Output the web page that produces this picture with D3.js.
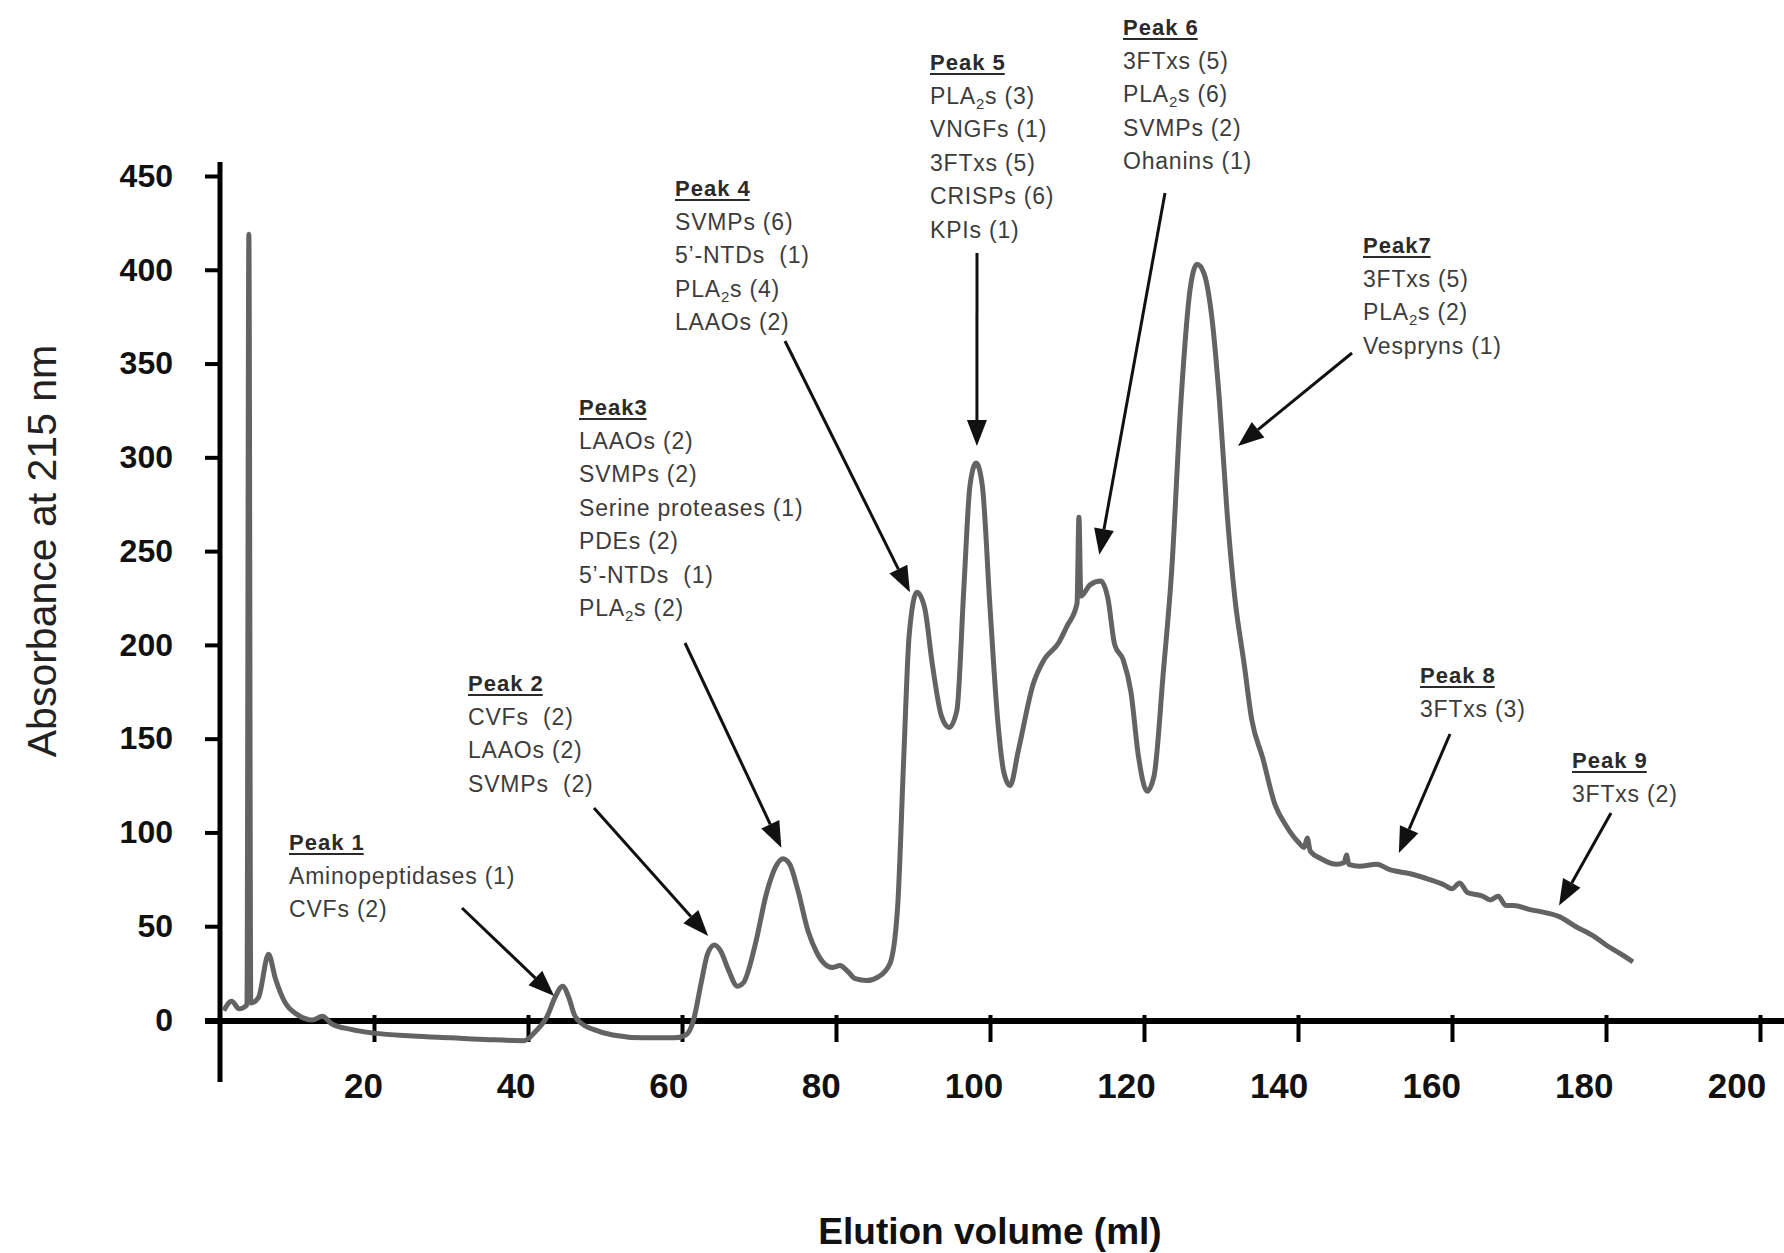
<!DOCTYPE html>
<html>
<head>
<meta charset="utf-8">
<script src="https://cdn.jsdelivr.net/npm/d3@7/dist/d3.min.js"></script>
<style>
  body { margin: 0; background: #fff; }
  svg { display: block; }
</style>
</head>
<body>
<svg id="chart"></svg>
<script>
// elution volume (ml)
const volume = [0.5, 1.5, 2.5, 3.5, 3.75, 4.0, 5, 6.3, 7.2, 8.5, 10, 12, 13.3, 14.5, 17, 20, 25, 30, 35, 39.5,
  41, 42.5, 43.5, 44.5, 45.3, 46, 47, 48.5, 51, 55, 59, 60.5, 61.5, 62.5, 63.3, 64.2, 65, 66, 67.2, 68,
  69.5, 71, 72.2, 73.1, 74, 75, 76.4, 77.5, 78.5, 79.5, 80.5, 81.5, 82.5, 84, 85.5, 87, 88, 88.8, 89.5, 90.5,
  91.5, 92.5, 93.7, 94.7, 95.7, 96.6, 97.4, 98.2, 99, 100, 101, 101.8, 102.6, 103.7, 105.6, 107, 108.9, 110, 111.3, 111.55,
  111.8, 113, 114.4, 115.3, 116.2, 117.3, 118.3, 119.3, 120.4, 121.3, 122.5, 123.6, 124.8, 126, 126.9, 127.8, 128.8, 129.8,
  130.8, 131.8, 133, 134, 135.4, 137, 138.4, 140, 140.8, 141.2, 141.6, 143, 145, 146, 146.3, 146.6, 148, 150.2,
  152, 154.6, 157, 159, 160, 161, 162, 164, 165, 166, 167, 168, 170, 172.4, 174, 176, 178.3, 180, 182, 183.5];
// absorbance at 215 nm
const absorbance = [5, 10, 6, 8, 419, 9, 12, 35, 22, 9, 3, 0, 2, -2, -5, -7, -8.5, -9.5, -10.5, -11,
  -6, 2, 12, 18, 12, 3, -2, -5, -8, -9.5, -9.5, -8, 0, 20, 35, 40, 37, 27, 18, 20,
  40, 68, 82, 86, 83, 70, 47, 36, 30, 28, 29, 26, 22, 21, 23, 30, 60, 140, 205, 228,
  220, 190, 162, 156, 165, 230, 285, 297, 285, 220, 160, 132, 125, 144, 179, 192, 201, 210, 222, 268,
  226, 232, 234, 225, 200, 192, 175, 140, 122, 130, 185, 240, 330, 390, 403, 398, 375, 330,
  270, 225, 190, 160, 140, 115, 104, 95, 92, 97, 90, 86, 83, 84, 88, 83, 82, 83,
  80, 78, 75, 72, 70, 73, 68, 66, 64, 66, 61, 61, 59, 57, 55, 50, 45, 40, 35, 31];

const xTicks = [20, 40, 60, 80, 100, 120, 140, 160, 180, 200];
const yTicks = [0, 50, 100, 150, 200, 250, 300, 350, 400, 450];

const peakNames = ["Peak 1", "Peak 2", "Peak3", "Peak 4", "Peak 5", "Peak 6", "Peak7", "Peak 8", "Peak 9"];
const peakContents = [
  ["Aminopeptidases (1)", "CVFs (2)"],
  ["CVFs  (2)", "LAAOs (2)", "SVMPs  (2)"],
  ["LAAOs (2)", "SVMPs (2)", "Serine proteases (1)", "PDEs (2)", "5\u2019-NTDs  (1)", "PLA_2s (2)"],
  ["SVMPs (6)", "5\u2019-NTDs  (1)", "PLA_2s (4)", "LAAOs (2)"],
  ["PLA_2s (3)", "VNGFs (1)", "3FTxs (5)", "CRISPs (6)", "KPIs (1)"],
  ["3FTxs (5)", "PLA_2s (6)", "SVMPs (2)", "Ohanins (1)"],
  ["3FTxs (5)", "PLA_2s (2)", "Vespryns (1)"],
  ["3FTxs (3)"],
  ["3FTxs (2)"]
];
// where each arrow points, in data units (ml, absorbance)
const peakTipVolume = [43.4, 63.4, 72.9, 89.6, 98.3, 114.2, 132.2, 153.1, 173.9];
const peakTipAbs = [12.8, 44.8, 91.8, 228, 306, 248, 306, 89, 61];

// layout of the label blocks and arrow tails (pixels)
const labelLayout = [
  {x: 289, y: 850, tail: [462, 908]},
  {x: 468, y: 691, tail: [594, 808]},
  {x: 579, y: 415, tail: [685, 643]},
  {x: 675, y: 196, tail: [785, 341]},
  {x: 930, y: 70, tail: [977, 253]},
  {x: 1123, y: 35, tail: [1165, 193]},
  {x: 1363, y: 253, tail: [1352, 353]},
  {x: 1420, y: 683, tail: [1450, 734]},
  {x: 1572, y: 768, tail: [1611, 813]}
];

const width = 1784, height = 1253;
const svg = d3.select("#chart").attr("width", width).attr("height", height);
svg.append("rect").attr("width", width).attr("height", height).attr("fill", "#fff");

const x = d3.scaleLinear().domain([0, 200]).range([220, 1760]);
const y = d3.scaleLinear().domain([0, 450]).range([1020, 176]);

// axes
const yAxis = svg.append("g")
  .attr("transform", "translate(220,0)")
  .call(d3.axisLeft(y).tickValues(yTicks).tickSize(15).tickFormat(d3.format("d")));
yAxis.select(".domain").remove();
yAxis.selectAll(".tick line").attr("stroke", "#000").attr("stroke-width", 4);
yAxis.selectAll(".tick text")
  .attr("x", -47)
  .attr("font-family", "Liberation Sans, Arial, sans-serif")
  .attr("font-weight", "bold")
  .attr("font-size", 32)
  .attr("fill", "#111");

const xAxis = svg.append("g")
  .attr("transform", "translate(0,1020)")
  .call(d3.axisBottom(x).tickValues(xTicks).tickSize(22));
xAxis.select(".domain").remove();
xAxis.selectAll(".tick line").attr("y1", -5).attr("stroke", "#000").attr("stroke-width", 4);
xAxis.selectAll(".tick text")
  .attr("y", 78)
  .attr("dy", 0)
  .attr("dx", d => -11 - (d - 20) * 0.07)
  .attr("font-family", "Liberation Sans, Arial, sans-serif")
  .attr("font-weight", "bold")
  .attr("font-size", 35)
  .attr("fill", "#111");

svg.append("line").attr("x1", 205).attr("x2", width).attr("y1", 1021).attr("y2", 1021)
  .attr("stroke", "#000").attr("stroke-width", 6);
svg.append("line").attr("x1", 220).attr("x2", 220).attr("y1", 162).attr("y2", 1082)
  .attr("stroke", "#000").attr("stroke-width", 5);

// axis titles
svg.append("text")
  .attr("x", 990).attr("y", 1244)
  .attr("text-anchor", "middle")
  .attr("font-family", "Liberation Sans, Arial, sans-serif")
  .attr("font-weight", "bold")
  .attr("font-size", 37)
  .attr("fill", "#111")
  .text("Elution volume (ml)");
svg.append("text")
  .attr("transform", "translate(56,551) rotate(-90)")
  .attr("text-anchor", "middle")
  .attr("font-family", "Liberation Sans, Arial, sans-serif")
  .attr("font-size", 41)
  .attr("fill", "#222")
  .text("Absorbance at 215 nm");

// chromatogram trace
const line = d3.line()
  .x(d => x(d[0]))
  .y(d => y(d[1]))
  .curve(d3.curveMonotoneX);
svg.append("path")
  .attr("d", line(volume.map((v, i) => [v, absorbance[i]])))
  .attr("fill", "none")
  .attr("stroke", "#636363")
  .attr("stroke-width", 5)
  .attr("stroke-linejoin", "round");

// arrows
function drawArrow(x1, y1, x2, y2) {
  const ang = Math.atan2(y2 - y1, x2 - x1);
  const len = 26, half = 10;
  const bx = x2 - len * Math.cos(ang), by = y2 - len * Math.sin(ang);
  svg.append("line").attr("x1", x1).attr("y1", y1).attr("x2", bx).attr("y2", by)
    .attr("stroke", "#111").attr("stroke-width", 3);
  const pts = [[x2, y2],
    [bx + half * Math.sin(ang), by - half * Math.cos(ang)],
    [bx - half * Math.sin(ang), by + half * Math.cos(ang)]];
  svg.append("polygon").attr("points", pts.map(p => p.join(",")).join(" ")).attr("fill", "#111");
}

// peak labels
const lineGap = 33.5;
peakNames.forEach((name, i) => {
  const lay = labelLayout[i];
  const head = svg.append("text")
    .attr("x", lay.x).attr("y", lay.y)
    .attr("font-family", "Liberation Sans, Arial, sans-serif")
    .attr("font-weight", "bold")
    .attr("font-size", 22)
    .attr("letter-spacing", 1)
    .attr("fill", "#2a2a2a")
    .text(name);
  const w = head.node().getComputedTextLength();
  svg.append("line").attr("x1", lay.x).attr("x2", lay.x + w - 1)
    .attr("y1", lay.y + 4).attr("y2", lay.y + 4)
    .attr("stroke", "#2a2a2a").attr("stroke-width", 2);

  peakContents[i].forEach((txt, j) => {
    const t = svg.append("text")
      .attr("x", lay.x).attr("y", lay.y + lineGap * (j + 1))
      .attr("font-family", "Liberation Sans, Arial, sans-serif")
      .attr("font-size", 23)
      .attr("letter-spacing", 0.8)
      .attr("fill", "#3c3c3c")
      .attr("xml:space", "preserve")
      .style("white-space", "pre");
    if (txt.includes("_")) {
      const parts = txt.split("_");
      t.append("tspan").text(parts[0]);
      t.append("tspan").attr("font-size", 15).attr("dy", 5).text(parts[1][0]);
      t.append("tspan").attr("dy", -5).text(parts[1].slice(1));
    } else {
      t.text(txt);
    }
  });

  drawArrow(lay.tail[0], lay.tail[1], x(peakTipVolume[i]), y(peakTipAbs[i]));
});
</script>
</body>
</html>
